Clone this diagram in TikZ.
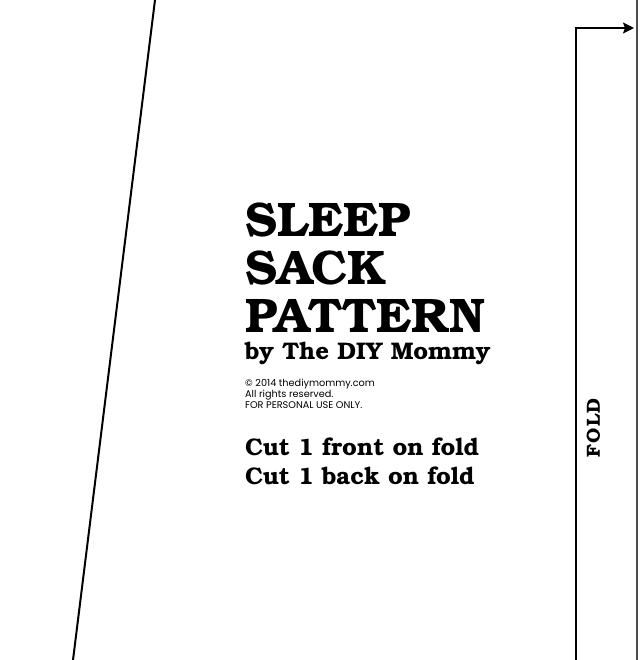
\documentclass[tikz,border=0pt]{standalone}
\usepackage{fontspec}
\setmainfont{TeX Gyre Bonum}
\newfontfamily\smallsans{Poppins}
\usetikzlibrary{arrows.meta}

\tikzset{
	titletext/.style={anchor=base west, inner sep=0pt, font=\fontsize{48.5}{48.5}\selectfont\bfseries},
	bytext/.style={anchor=base west, inner sep=0pt, font=\fontsize{24}{24}\selectfont\bfseries},
	notetext/.style={anchor=base west, inner sep=0pt, font=\fontsize{9.7}{9.7}\selectfont\smallsans},
	cuttext/.style={anchor=base west, inner sep=0pt, font=\fontsize{24}{24}\selectfont\bfseries},
	cutline/.style={line width=2pt}
}

\begin{document}
\begin{tikzpicture}[x=1pt, y=-1pt]
		\useasboundingbox (0,0) rectangle (639,660);
		% cutting edges
		\draw[cutline] (155,0) -- (73,660);
		\draw[cutline, black!70] (636.5,0) -- (636.5,660);
	
		% fold line and grain arrow
		\draw[cutline, -{Stealth[length=11pt, width=11pt, inset=2pt]}] (576,660) -- (576,28) -- (634,28);
		\node[rotate=90, inner sep=0pt, font=\fontsize{19}{19}\selectfont\bfseries\addfontfeature{LetterSpace=7}] (fold) at (593.5,428) {FOLD};
	
		% title block
		\node[titletext] (sleep) at (245,236) {SLEEP};
		\node[titletext] (sack) at (245,284) {SACK};
		\node[titletext] (pattern) at (245,332) {PATTERN};
		\node[bytext] (by) at (245,359) {by The DIY Mommy};
	
		\node[notetext] (copy) at (245,386) {\textcopyright\ 2014 thediymommy.com};
		\node[notetext] (rights) at (245,397) {All rights reserved.};
		\node[notetext] (personal) at (245,408) {FOR PERSONAL USE ONLY.};
	
		\node[cuttext] (front) at (245,455) {Cut 1 front on fold};
		\node[cuttext] (back) at (245,484) {Cut 1 back on fold};
	\end{tikzpicture}
\end{document}
